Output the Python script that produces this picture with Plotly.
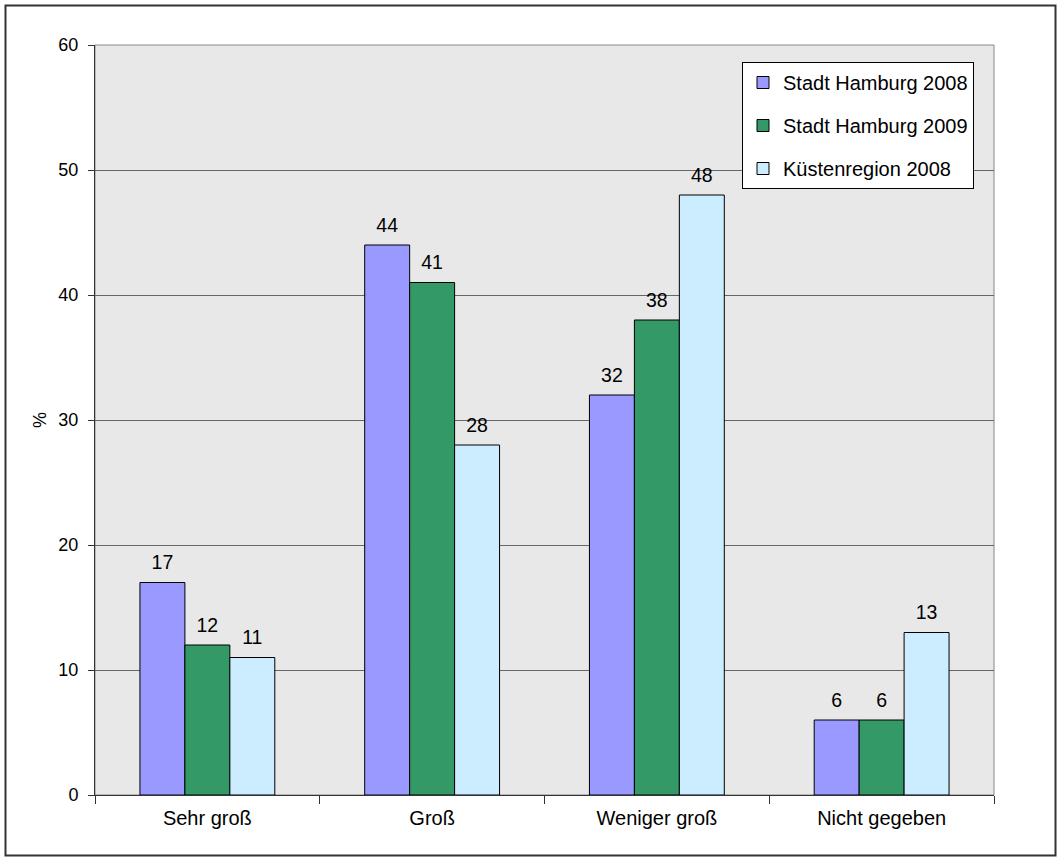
import plotly.graph_objects as go

categories = ["Sehr groß", "Groß", "Weniger groß", "Nicht gegeben"]
series_names = ["Stadt Hamburg 2008", "Stadt Hamburg 2009", "Küstenregion 2008"]
hh2008 = [17, 44, 32, 6]
hh2009 = [12, 41, 38, 6]
kueste2008 = [11, 28, 48, 13]
colors = ["#9999FF", "#339966", "#CCECFF"]

FONT = "Liberation Sans, Arial, sans-serif"

fig = go.Figure()
for i, (name, vals) in enumerate(zip(series_names, [hh2008, hh2009, kueste2008])):
    fig.add_trace(go.Bar(
        x=categories, y=vals, name=name, offsetgroup=str(i),
        marker=dict(color=colors[i], line=dict(color="#000000", width=1)),
        legendgroup=name, hoverinfo="skip",
    ))
for i, (name, vals) in enumerate(zip(series_names, [hh2008, hh2009, kueste2008])):
    fig.add_trace(go.Scatter(
        x=categories, y=vals, name=name, offsetgroup=str(i),
        mode="markers+text", marker=dict(size=12, opacity=0),
        text=[str(v) for v in vals], textposition="top center",
        textfont=dict(size=19.5, color="#000000", family=FONT),
        cliponaxis=False, showlegend=False, legendgroup=name,
    ))

fig.update_layout(
    width=1062, height=862,
    margin=dict(l=95, r=68, t=45, b=67),
    paper_bgcolor="#FFFFFF", plot_bgcolor="#E8E8E8",
    font=dict(family=FONT, size=18, color="#000000"),
    barmode="group", bargap=0.4, bargroupgap=0,
    scattermode="group", scattergap=0.4,
    showlegend=True,
    legend=dict(x=(742 - 95) / 899, y=(795 - 62) / 750, xanchor="left", yanchor="top",
                bgcolor="#FFFFFF", bordercolor="#000000", borderwidth=1,
                font=dict(size=20, family=FONT), tracegroupgap=14,
                traceorder="grouped", itemwidth=30),
    xaxis=dict(type="category", showgrid=False, ticks="outside", tickson="boundaries",
               ticklen=8, tickcolor="#333333", showline=True, linecolor="#333333",
               linewidth=1, tickfont=dict(size=20), ticklabelstandoff=5),
    yaxis=dict(range=[0, 60], dtick=10, showgrid=True, gridcolor="#666666", gridwidth=1,
               ticks="outside", ticklen=6, tickcolor="#333333", showline=True,
               linecolor="#333333", linewidth=1, zeroline=False,
               tickfont=dict(size=18), ticklabelstandoff=6,
               title=dict(text="%", font=dict(size=18), standoff=7)),
    shapes=[
        dict(type="rect", xref="paper", yref="paper", x0=0, x1=1, y0=0, y1=1,
             line=dict(color="#888888", width=1), layer="below"),
        dict(type="rect", xref="paper", yref="paper",
             x0=(5.5 - 95) / 899, x1=(1055.5 - 95) / 899,
             y0=(795 - 855.5) / 750, y1=(795 - 5.5) / 750,
             line=dict(color="#333333", width=2)),
    ],
)

fig.write_html("out.html", config={"displayModeBar": False},
               post_script="document.body.style.margin='0';document.body.style.overflow='hidden';")
